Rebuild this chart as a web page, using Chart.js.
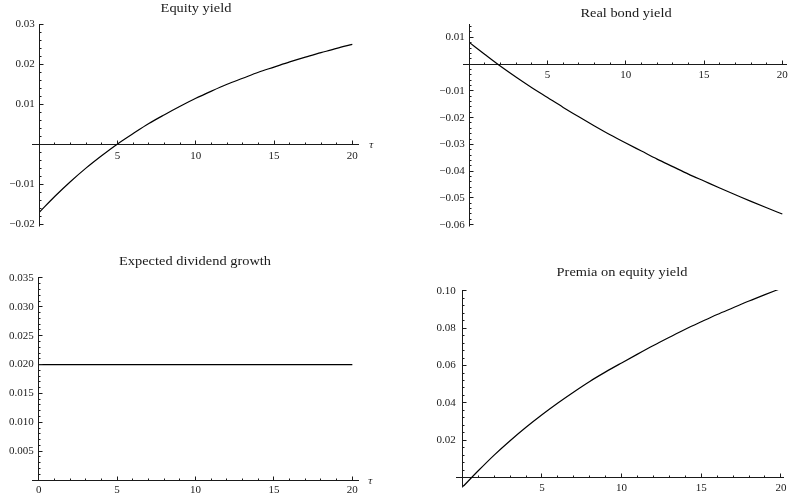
<!DOCTYPE html>
<html>
<head>
<meta charset="utf-8">
<script src="https://cdn.jsdelivr.net/npm/chart.js@4.4.1/dist/chart.umd.min.js"></script>
<style>
  html, body { margin: 0; padding: 0; background: #fff; }
  #wrap { position: relative; width: 797px; height: 501px; overflow: hidden; }
  #wrap canvas { position: absolute; left: 0; top: 0; }
</style>
</head>
<body>
<div id="wrap">
  <canvas id="c1" width="797" height="501"></canvas>
  <canvas id="c2" width="797" height="501"></canvas>
  <canvas id="c3" width="797" height="501"></canvas>
  <canvas id="c4" width="797" height="501"></canvas>
</div>
<script>
// Horizon tau (years)
const tau = [0, 1, 2, 3, 4, 5, 6, 7, 8, 9, 10, 11, 12, 13, 14, 15, 16, 17, 18, 19, 20];

// Term structures by horizon
const equityYield = [-0.0170, -0.0130, -0.0093, -0.0059, -0.0028, 0.0001, 0.0027, 0.0052, 0.0074, 0.0095,
  0.0115, 0.0133, 0.0150, 0.0165, 0.0180, 0.0193, 0.0206, 0.0218, 0.0229, 0.0240, 0.0250];
const realBondYield = [0.0081, 0.0036, -0.0008, -0.0049, -0.0088, -0.0125, -0.0162, -0.0197, -0.0231, -0.0264,
  -0.0295, -0.0325, -0.0355, -0.0383, -0.0411, -0.0437, -0.0463, -0.0488, -0.0513, -0.0537, -0.0560];
const dividendGrowth = [0.020, 0.020, 0.020, 0.020, 0.020, 0.020, 0.020, 0.020, 0.020, 0.020,
  0.020, 0.020, 0.020, 0.020, 0.020, 0.020, 0.020, 0.020, 0.020, 0.020, 0.020];
const equityPremia = [-0.0051, 0.0037, 0.0121, 0.0198, 0.0270, 0.0337, 0.0400, 0.0459, 0.0515, 0.0566,
  0.0614, 0.0661, 0.0707, 0.0751, 0.0794, 0.0834, 0.0873, 0.0909, 0.0945, 0.0979, 0.1012];

// Tick values and labels
const tauTicks = [5, 10, 15, 20];
const tauTickLabels = ['5', '10', '15', '20'];
const tauTicksFromZero = [0, 5, 10, 15, 20];
const tauTickLabelsFromZero = ['0', '5', '10', '15', '20'];

const equityYieldTicks = [-0.02, -0.01, 0.01, 0.02, 0.03];
const equityYieldTickLabels = ['\u22120.02', '\u22120.01', '0.01', '0.02', '0.03'];
const bondYieldTicks = [-0.06, -0.05, -0.04, -0.03, -0.02, -0.01, 0.01];
const bondYieldTickLabels = ['\u22120.06', '\u22120.05', '\u22120.04', '\u22120.03', '\u22120.02', '\u22120.01', '0.01'];
const growthTicks = [0.005, 0.010, 0.015, 0.020, 0.025, 0.030, 0.035];
const growthTickLabels = ['0.005', '0.010', '0.015', '0.020', '0.025', '0.030', '0.035'];
const premiaTicks = [0.02, 0.04, 0.06, 0.08, 0.10];
const premiaTickLabels = ['0.02', '0.04', '0.06', '0.08', '0.10'];

const SERIF = '"Liberation Serif", "Times New Roman", serif';
const INK = '#1a1a1a';

// Mathematica-style axes: vertical axis line through tau = 0, major/minor tick marks,
// panel title and the tau label
const axesDecor = {
  id: 'axesDecor',
  afterDraw(chart, args, o) {
    const ctx = chart.ctx;
    const area = chart.chartArea;
    const xs = chart.scales.x, ys = chart.scales.y;
    const align = p => Math.round(p - 0.5) + 0.5;
    ctx.save();
    ctx.strokeStyle = INK;
    ctx.lineWidth = 1;
    ctx.beginPath();
    const xBase = align(ys.getPixelForValue(0));
    const yBase = align(xs.getPixelForValue(0));
    // value axis
    ctx.moveTo(yBase, Math.round(area.top));
    ctx.lineTo(yBase, Math.round(area.bottom) + 0.5);
    // ticks along tau axis, pointing up
    const xr = Math.round(o.xMajor / o.xMinor);
    for (let k = Math.ceil(xs.min / o.xMinor - 1e-9); k <= Math.floor(xs.max / o.xMinor + 1e-9); k++) {
      if (k === 0) continue;
      const p = align(xs.getPixelForValue(k * o.xMinor));
      const len = (k % xr === 0) ? 4 : 2;
      ctx.moveTo(p, xBase);
      ctx.lineTo(p, xBase - len);
    }
    // ticks along value axis, pointing right
    const yr = Math.round(o.yMajor / o.yMinor);
    for (let k = Math.ceil(ys.min / o.yMinor - 1e-9); k <= Math.floor(ys.max / o.yMinor + 1e-9); k++) {
      if (k === 0) continue;
      const p = align(ys.getPixelForValue(k * o.yMinor));
      const len = (k % yr === 0) ? 4 : 2;
      ctx.moveTo(yBase, p);
      ctx.lineTo(yBase + len, p);
    }
    ctx.stroke();

    // panel title, slightly widened serif
    ctx.fillStyle = INK;
    ctx.font = '12px ' + SERIF;
    ctx.textAlign = 'center';
    ctx.textBaseline = 'alphabetic';
    ctx.save();
    ctx.translate(o.titleX, o.titleY);
    ctx.scale(1.2, 1);
    ctx.fillText(o.title, 0, 0);
    ctx.restore();

    if (o.tauLabel) {
      ctx.font = 'italic 11px ' + SERIF;
      ctx.textAlign = 'center';
      ctx.textBaseline = 'middle';
      ctx.fillText('\u03c4', xs.right + o.tauGap, xBase + 1);
    }
    ctx.restore();
  }
};

function makePanel(id, series, p) {
  // value labels sit a few pixels left of tau = 0
  const pxPerTau = (797 - p.padding.left - p.padding.right) / (p.xMax - p.xMin);
  const labelAt = -p.yGap / pxPerTau;
  return new Chart(document.getElementById(id), {
    type: 'line',
    data: {
      datasets: [{
        data: tau.map((t, i) => ({ x: t, y: series[i] })),
        borderColor: '#000',
        borderWidth: 1.2,
        pointRadius: 0,
        fill: false,
        cubicInterpolationMode: 'monotone',
        clip: 0
      }]
    },
    options: {
      responsive: false,
      animation: false,
      devicePixelRatio: 1,
      events: [],
      layout: { padding: p.padding },
      plugins: {
        legend: { display: false },
        title: { display: false },
        tooltip: { enabled: false },
        axesDecor: p.decor
      },
      scales: {
        x: {
          type: 'linear',
          axis: 'x',
          position: { y: 0 },
          min: p.xMin, max: p.xMax,
          bounds: 'data',
          grid: { display: false, drawTicks: false, tickLength: 0 },
          border: { display: true, color: INK, width: 1 },
          afterFit: s => { s.height = 0; },
          afterBuildTicks: s => { s.ticks = p.xTicks.map(v => ({ value: v })); },
          ticks: {
            autoSkip: false, maxRotation: 0, padding: p.xPad,
            color: INK, font: { family: SERIF, size: 11 },
            callback: (v, i) => p.xLabels[i]
          }
        },
        y: {
          type: 'linear',
          axis: 'y',
          position: { x: labelAt },
          min: p.yMin, max: p.yMax,
          bounds: 'data',
          grid: { display: false, drawTicks: false, tickLength: 0 },
          border: { display: false },
          afterFit: s => { s.width = 0; },
          afterBuildTicks: s => { s.ticks = p.yTicks.map(v => ({ value: v })); },
          ticks: {
            autoSkip: false, padding: 0,
            color: INK, font: { family: SERIF, size: 11 },
            callback: (v, i) => p.yLabels[i]
          }
        }
      }
    },
    plugins: [axesDecor]
  });
}

makePanel('c1', equityYield, {
  padding: { left: 32.3, right: 438.7, top: 24.3, bottom: 275.3 },
  xMin: -0.447, xMax: 20.383, yMin: -0.02035, yMax: 0.0300,
  xTicks: tauTicks, xLabels: tauTickLabels, yTicks: equityYieldTicks, yLabels: equityYieldTickLabels,
  xPad: 5, yGap: 4.5,
  decor: { xMinor: 1, xMajor: 5, yMinor: 0.002, yMajor: 0.01,
           title: 'Equity yield', titleX: 196, titleY: 12, tauLabel: true, tauGap: 13 }
});

makePanel('c2', realBondYield, {
  padding: { left: 463.3, right: 10.3, top: 24.3, bottom: 275.3 },
  xMin: -0.383, xMax: 20.28, yMin: -0.06038, yMax: 0.01486,
  xTicks: tauTicks, xLabels: tauTickLabels, yTicks: bondYieldTicks, yLabels: bondYieldTickLabels,
  xPad: 4, yGap: 4.5,
  decor: { xMinor: 1, xMajor: 5, yMinor: 0.002, yMajor: 0.01,
           title: 'Real bond yield', titleX: 626, titleY: 17, tauLabel: false }
});

makePanel('c3', dividendGrowth, {
  padding: { left: 32.3, right: 438.7, top: 277.3, bottom: 21 },
  xMin: -0.408, xMax: 20.38, yMin: 0, yMax: 0.03512,
  xTicks: tauTicksFromZero, xLabels: tauTickLabelsFromZero, yTicks: growthTicks, yLabels: growthTickLabels,
  xPad: 4, yGap: 5,
  decor: { xMinor: 1, xMajor: 5, yMinor: 0.001, yMajor: 0.005,
           title: 'Expected dividend growth', titleX: 195, titleY: 265.3, tauLabel: true, tauGap: 12 }
});

makePanel('c4', equityPremia, {
  padding: { left: 456, right: 13.7, top: 290, bottom: 14.3 },
  xMin: -0.395, xMax: 20.15, yMin: -0.00481, yMax: 0.1004,
  xTicks: tauTicks, xLabels: tauTickLabels, yTicks: premiaTicks, yLabels: premiaTickLabels,
  xPad: 4, yGap: 6.5,
  decor: { xMinor: 1, xMajor: 5, yMinor: 0.004, yMajor: 0.02,
           title: 'Premia on equity yield', titleX: 622, titleY: 275.5, tauLabel: false }
});
</script>
</body>
</html>
